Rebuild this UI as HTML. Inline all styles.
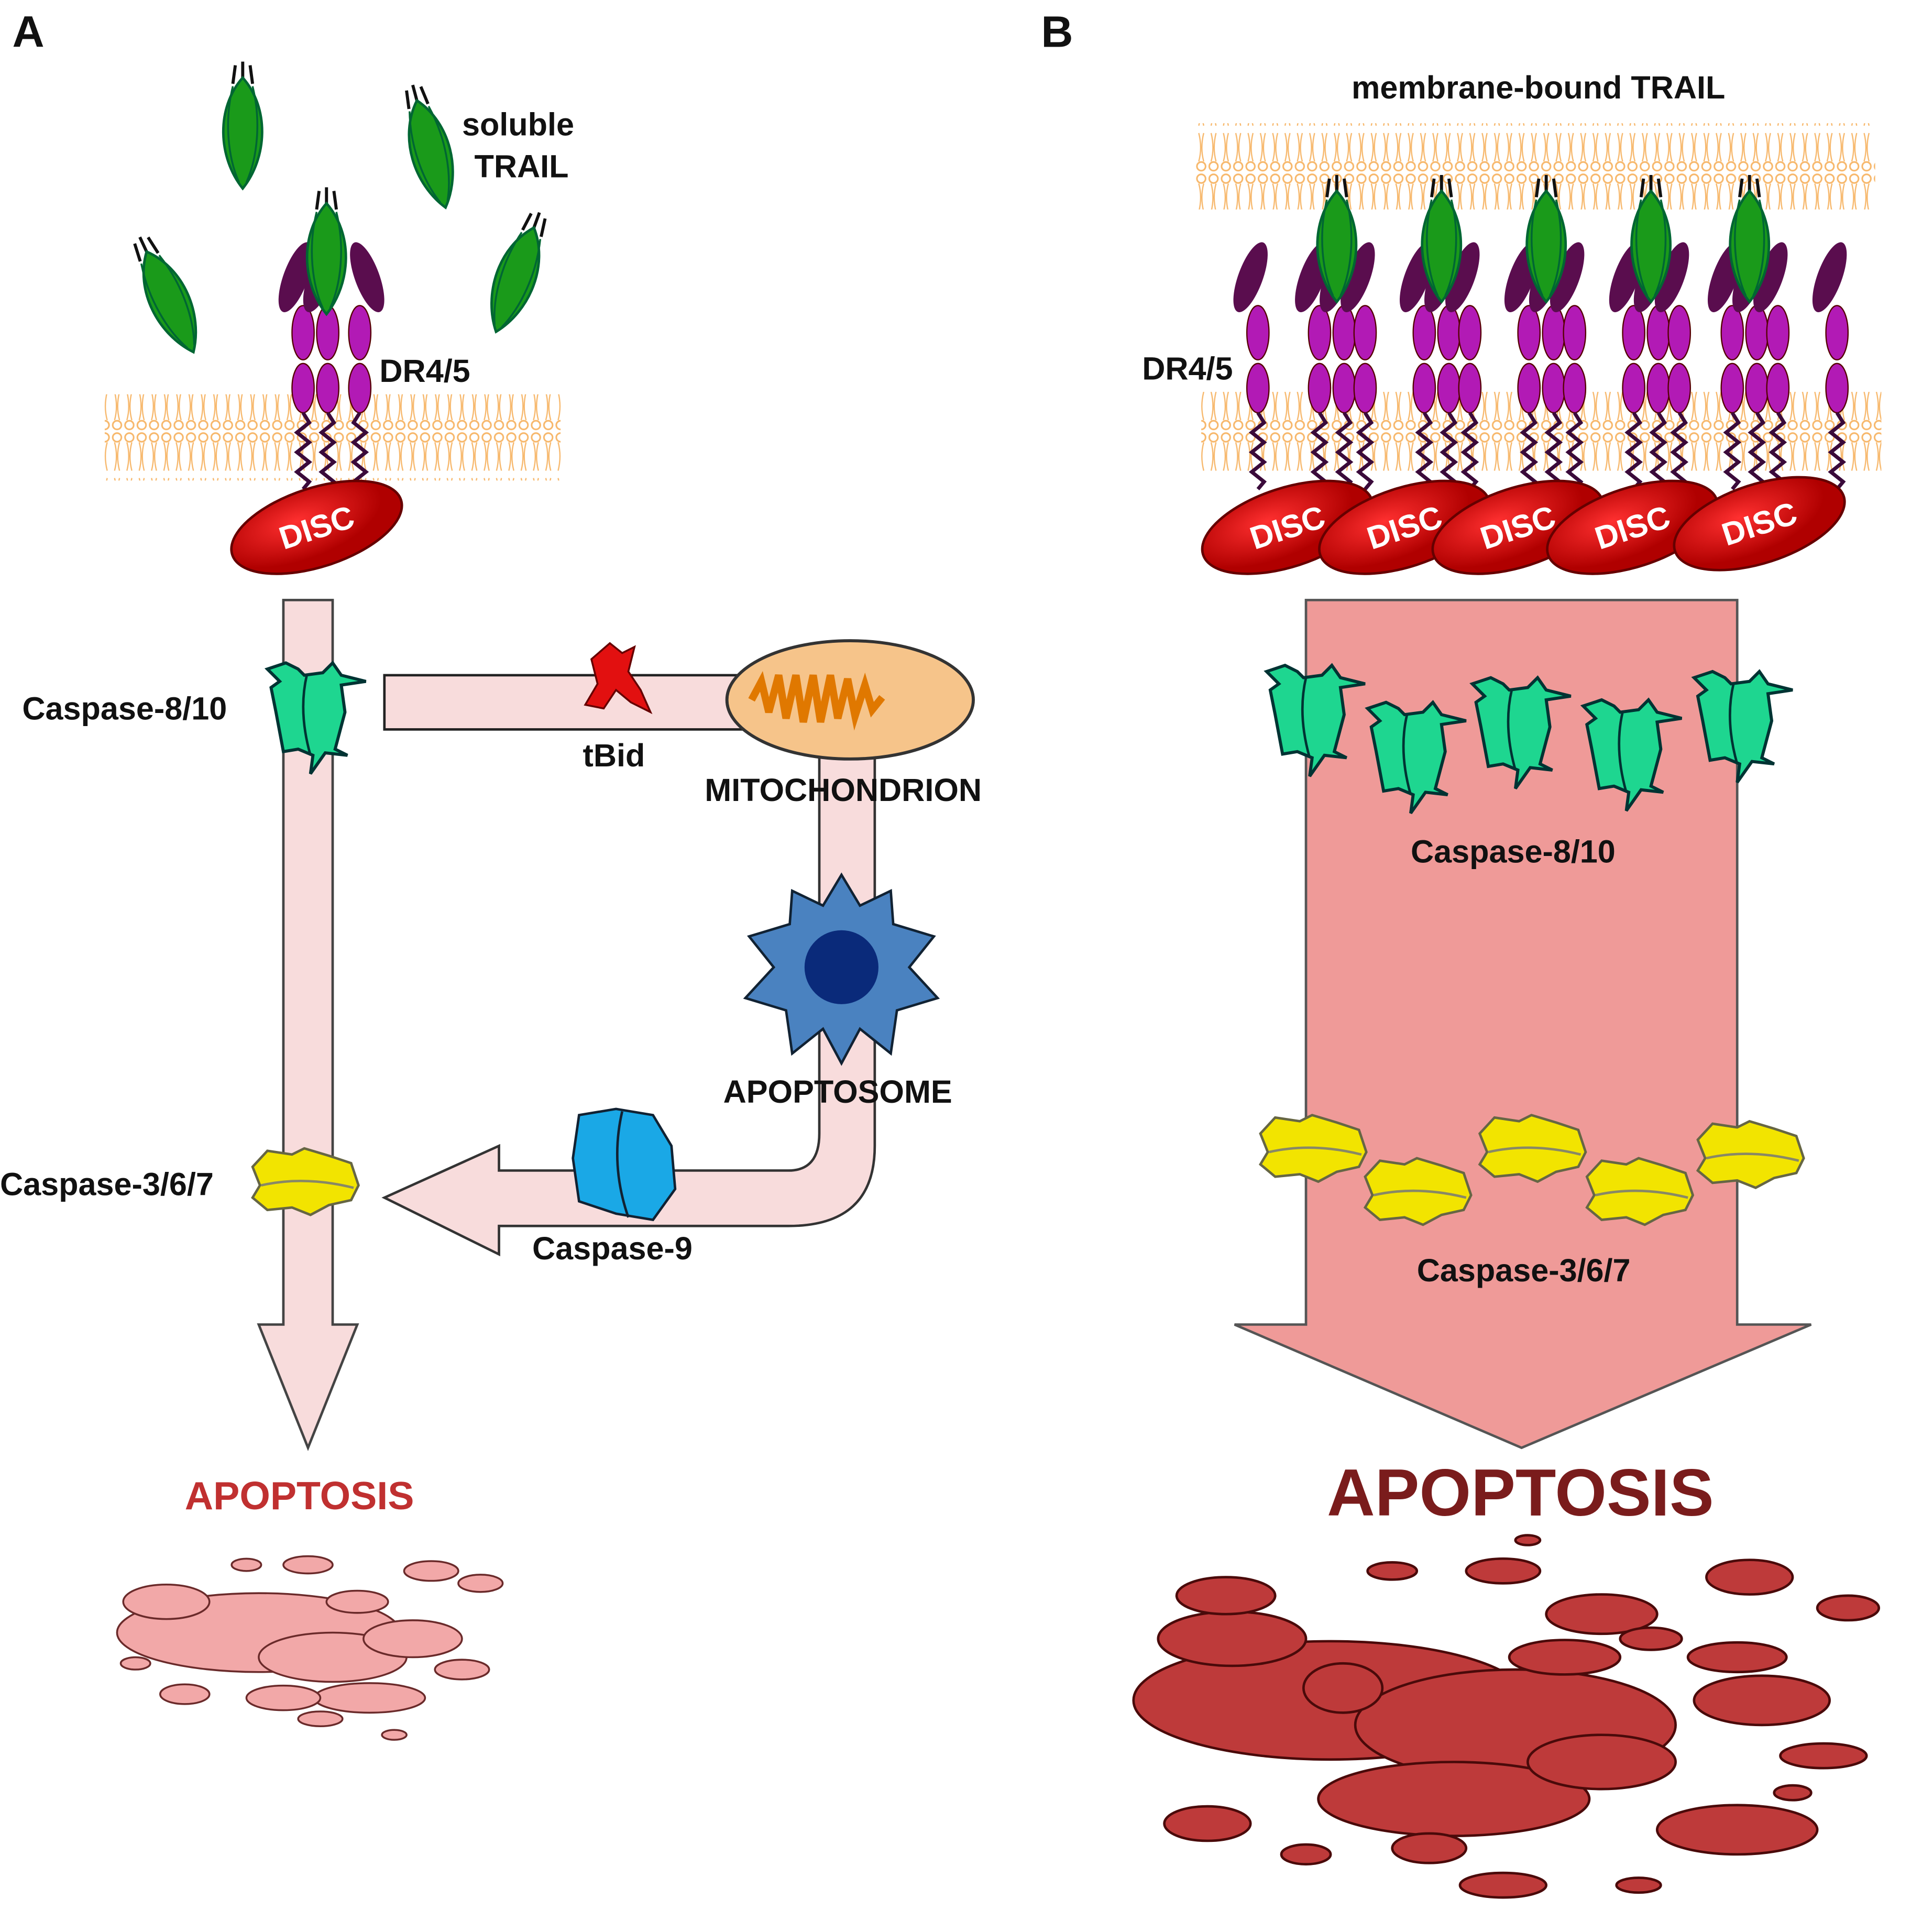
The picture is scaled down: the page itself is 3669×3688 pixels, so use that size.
<!DOCTYPE html>
<html><head><meta charset="utf-8"><style>
html,body{margin:0;padding:0;background:#fff;}
svg{display:block;}
text{font-family:"Liberation Sans",Arial,sans-serif;font-weight:bold;}
</style></head><body>
<svg width="3669" height="3688" viewBox="0 0 1560 1568" preserveAspectRatio="none" xmlns="http://www.w3.org/2000/svg">
<defs>
<pattern id="mem" width="10" height="70" patternUnits="userSpaceOnUse">
<rect width="10" height="70" fill="#fff"/>
<circle cx="5" cy="5" r="3.5" fill="none" stroke="#f7b76a" stroke-width="1.3"/>
<circle cx="5" cy="65" r="3.5" fill="none" stroke="#f7b76a" stroke-width="1.3"/>
<path d="M3 9 Q6 20 3 32 M7 9 Q4 20 7 32 M3 38 Q6 50 3 61 M7 38 Q4 50 7 61" stroke="#f7b76a" stroke-width="1" fill="none"/>
</pattern>
<radialGradient id="disc" cx="40%" cy="35%"><stop offset="0" stop-color="#ff3030"/><stop offset="1" stop-color="#b00000"/></radialGradient>
<g id="trail"><path d="M-8 -40 L-6 -55 M0 -40 L0 -58 M8 -40 L6 -55" stroke="#111" stroke-width="2.5"/><path d="M0 -45 C-22 -20 -20 20 0 45 C20 20 22 -20 0 -45Z" fill="#1a9a1a" stroke="#063" stroke-width="2"/><path d="M-8 -38 C-15 -10 -12 20 -3 40" stroke="#063" fill="none" stroke-width="1.5"/><path d="M8 -38 C15 -10 12 20 3 40" stroke="#063" fill="none" stroke-width="1.5"/></g>
<g id="rec"><ellipse cx="-10" cy="-75" rx="10" ry="30" fill="#5a0d4e" transform="rotate(20 -10 -75)"/><ellipse cx="-4" cy="-30" rx="9" ry="22" fill="#b21ab5" stroke="#500" stroke-width="1"/><ellipse cx="-4" cy="15" rx="9" ry="20" fill="#b21ab5" stroke="#500" stroke-width="1"/><path d="M-4 35 l5 8 l-10 8 l10 8 l-10 8 l10 8 l-10 8 l10 8 l-5 6" stroke="#3a0a3a" stroke-width="3" fill="none"/></g>
<g id="disc1"><ellipse cx="0" cy="0" rx="72" ry="32" fill="url(#disc)" stroke="#600" stroke-width="2" transform="rotate(-18)"/><text x="0" y="9" font-size="26" fill="#fff" text-anchor="middle" transform="rotate(-18)">DISC</text></g>
<g id="c8"><path d="M-35 -35 L-20 -40 L-10 -35 L-5 -30 L10 -32 L18 -40 L25 -30 L45 -25 L25 -22 L28 0 L20 30 L30 35 L12 33 L0 50 L2 35 L-10 30 L-22 32 L-28 0 L-32 -20 L-25 -25Z" fill="#1ed690" stroke="#033" stroke-width="2.5"/><path d="M-3 -30 Q-10 0 0 35" stroke="#033" stroke-width="2" fill="none"/></g>
<g id="c3"><path d="M-42 -15 L-30 -28 L-10 -25 L0 -30 L20 -24 L38 -18 L44 0 L38 12 L20 16 L5 24 L-10 18 L-30 20 L-42 10 L-36 0Z" fill="#f2e400" stroke="#664" stroke-width="2"/><path d="M-35 0 Q0 -8 40 2" stroke="#886" stroke-width="2" fill="none"/></g>
<g id="blob"><ellipse rx="1" ry="1"/></g>
</defs>

<text x="10" y="38" font-size="36" fill="#111">A</text>
<text x="845" y="38" font-size="36" fill="#111">B</text>

<!-- Panel A -->
<rect x="85" y="320" width="370" height="70" fill="url(#mem)"/>
<use href="#trail" x="197" y="108"/>
<use href="#trail" x="350" y="125" transform="rotate(-15 350 125)"/>
<use href="#trail" x="138" y="245" transform="rotate(-25 138 245)"/>
<use href="#trail" x="418" y="227" transform="rotate(20 418 227)"/>
<use href="#rec" x="250" y="300"/>
<use href="#rec" x="270" y="300"/>
<use href="#rec" x="288" y="300" transform="scale(-1 1) translate(-576 0)"/>
<use href="#trail" x="265" y="210"/>
<text x="375" y="110" font-size="26" fill="#111">soluble</text>
<text x="385" y="144" font-size="26" fill="#111">TRAIL</text>
<text x="308" y="310" font-size="26" fill="#111">DR4/5</text>
<use href="#disc1" x="257" y="428"/>

<rect x="312" y="548" width="300" height="44" fill="#f8dcdc" stroke="#222" stroke-width="2"/>
<path d="M230 487 H270 V1075 H290 L250 1175 L210 1075 H230Z" fill="#f8dcdc" stroke="#444" stroke-width="2"/>
<path d="M665 595 H710 V930 Q710 995 640 995 H405 V1018 L312 972 L405 930 V950 H640 Q665 950 665 920Z" fill="#f8dcdc" stroke="#333" stroke-width="2"/>
<ellipse cx="690" cy="568" rx="100" ry="48" fill="#f6c48a" stroke="#333" stroke-width="2.5"/>
<path d="M610 568 l8 -15 l6 25 l8 -30 l6 35 l8 -35 l6 38 l8 -38 l6 38 l8 -38 l6 35 l8 -32 l6 30 l8 -25 l6 20 l8 -10" stroke="#e07800" stroke-width="6" fill="none"/>
<path d="M480 535 L495 522 L505 530 L515 525 L510 545 L520 560 L528 578 L512 570 L500 560 L490 575 L475 572 L485 555Z" fill="#e21010" stroke="#600" stroke-width="1.5"/>
<use href="#c8" x="252" y="578"/>
<text x="18" y="584" font-size="26" fill="#111">Caspase-8/10</text>
<text x="473" y="622" font-size="26" fill="#111">tBid</text>
<text x="572" y="650" font-size="26" fill="#111">MITOCHONDRION</text>
<g transform="translate(683 785)" fill="#4a82c0" stroke="#123" stroke-width="2">
<path d="M0 -75 L15 -50 L40 -62 L42 -35 L75 -25 L55 0 L78 25 L45 35 L40 70 L15 50 L0 78 L-15 50 L-40 70 L-45 35 L-78 25 L-55 0 L-75 -25 L-42 -35 L-40 -62 L-15 -50Z"/>
<circle r="30" fill="#0a2a7a" stroke="none"/></g>
<text x="587" y="895" font-size="26" fill="#111">APOPTOSOME</text>
<path d="M470 905 L500 900 L530 905 L545 930 L548 965 L530 990 L500 985 L470 975 L465 940Z" fill="#1aa8e6" stroke="#123" stroke-width="2"/>
<path d="M505 902 Q495 945 510 988" stroke="#123" stroke-width="2" fill="none"/>
<text x="432" y="1022" font-size="26" fill="#111">Caspase-9</text>
<use href="#c3" x="247" y="962"/>
<text x="0" y="970" font-size="26" fill="#111">Caspase-3/6/7</text>
<text x="150" y="1225" font-size="32" fill="#c03030">APOPTOSIS</text>
<g fill="#f2a8a8" stroke="#6a2a2a" stroke-width="1.5">
<ellipse cx="210" cy="1325" rx="115" ry="32"/><ellipse cx="270" cy="1345" rx="60" ry="20"/><ellipse cx="135" cy="1300" rx="35" ry="14"/><ellipse cx="335" cy="1330" rx="40" ry="15"/><ellipse cx="300" cy="1378" rx="45" ry="12"/><ellipse cx="230" cy="1378" rx="30" ry="10"/><ellipse cx="350" cy="1275" rx="22" ry="8"/><ellipse cx="290" cy="1300" rx="25" ry="9"/><ellipse cx="375" cy="1355" rx="22" ry="8"/><ellipse cx="150" cy="1375" rx="20" ry="8"/><ellipse cx="390" cy="1285" rx="18" ry="7"/><ellipse cx="250" cy="1270" rx="20" ry="7"/><ellipse cx="200" cy="1270" rx="12" ry="5"/><ellipse cx="260" cy="1395" rx="18" ry="6"/><ellipse cx="320" cy="1408" rx="10" ry="4"/><ellipse cx="110" cy="1350" rx="12" ry="5"/>
</g>

<!-- Panel B -->
<rect x="970" y="100" width="552" height="70" fill="url(#mem)"/>
<rect x="975" y="318" width="552" height="68" fill="url(#mem)"/>
<text x="1097" y="80" font-size="26" fill="#111">membrane-bound TRAIL</text>
<g>
<use href="#rec" x="1025" y="300"/>
<use href="#rec" x="1075" y="300"/><use href="#rec" x="1095" y="300"/><use href="#rec" x="1112" y="300"/>
<use href="#rec" x="1160" y="300"/><use href="#rec" x="1180" y="300"/><use href="#rec" x="1197" y="300"/>
<use href="#rec" x="1245" y="300"/><use href="#rec" x="1265" y="300"/><use href="#rec" x="1282" y="300"/>
<use href="#rec" x="1330" y="300"/><use href="#rec" x="1350" y="300"/><use href="#rec" x="1367" y="300"/>
<use href="#rec" x="1410" y="300"/><use href="#rec" x="1430" y="300"/><use href="#rec" x="1447" y="300"/>
<use href="#rec" x="1495" y="300"/>
<use href="#trail" x="1085" y="200"/><use href="#trail" x="1170" y="200"/><use href="#trail" x="1255" y="200"/><use href="#trail" x="1340" y="200"/><use href="#trail" x="1420" y="200"/>
</g>
<text x="927" y="308" font-size="26" fill="#111">DR4/5</text>
<use href="#disc1" x="1045" y="428"/><use href="#disc1" x="1140" y="428"/><use href="#disc1" x="1232" y="428"/><use href="#disc1" x="1325" y="428"/><use href="#disc1" x="1428" y="425"/>
<path d="M1060 487 H1410 V1075 H1470 L1235 1175 L1002 1075 H1060Z" fill="#ef9a98" stroke="#555" stroke-width="2"/>
<use href="#c8" x="1063" y="580"/><use href="#c8" x="1145" y="610"/><use href="#c8" x="1230" y="590"/><use href="#c8" x="1320" y="608"/><use href="#c8" x="1410" y="585"/>
<text x="1145" y="700" font-size="26" fill="#111">Caspase-8/10</text>
<use href="#c3" x="1065" y="935"/><use href="#c3" x="1150" y="970"/><use href="#c3" x="1243" y="935"/><use href="#c3" x="1330" y="970"/><use href="#c3" x="1420" y="940"/>
<text x="1150" y="1040" font-size="26" fill="#111">Caspase-3/6/7</text>
<text x="1077" y="1230" font-size="54" fill="#7a1c1c">APOPTOSIS</text>
<g fill="#be3a3a" stroke="#4a0a0a" stroke-width="2">
<ellipse cx="1080" cy="1380" rx="160" ry="48"/><ellipse cx="1230" cy="1400" rx="130" ry="45"/><ellipse cx="1180" cy="1460" rx="110" ry="30"/><ellipse cx="1000" cy="1330" rx="60" ry="22"/><ellipse cx="995" cy="1295" rx="40" ry="15"/>
<ellipse cx="1300" cy="1430" rx="60" ry="22"/><ellipse cx="1430" cy="1380" rx="55" ry="20"/><ellipse cx="1410" cy="1345" rx="40" ry="12"/><ellipse cx="1300" cy="1310" rx="45" ry="16"/><ellipse cx="1270" cy="1345" rx="45" ry="14"/>
<ellipse cx="1220" cy="1275" rx="30" ry="10"/><ellipse cx="1130" cy="1275" rx="20" ry="7"/><ellipse cx="1420" cy="1280" rx="35" ry="14"/><ellipse cx="1500" cy="1305" rx="25" ry="10"/><ellipse cx="1480" cy="1425" rx="35" ry="10"/>
<ellipse cx="1410" cy="1485" rx="65" ry="20"/><ellipse cx="980" cy="1480" rx="35" ry="14"/><ellipse cx="1060" cy="1505" rx="20" ry="8"/><ellipse cx="1220" cy="1530" rx="35" ry="10"/><ellipse cx="1330" cy="1530" rx="18" ry="6"/>
<ellipse cx="1340" cy="1330" rx="25" ry="9"/><ellipse cx="1160" cy="1500" rx="30" ry="12"/><ellipse cx="1090" cy="1370" rx="32" ry="20"/><ellipse cx="1455" cy="1455" rx="15" ry="6"/><ellipse cx="1240" cy="1250" rx="10" ry="4"/>
</g>
</svg>
</body></html>
